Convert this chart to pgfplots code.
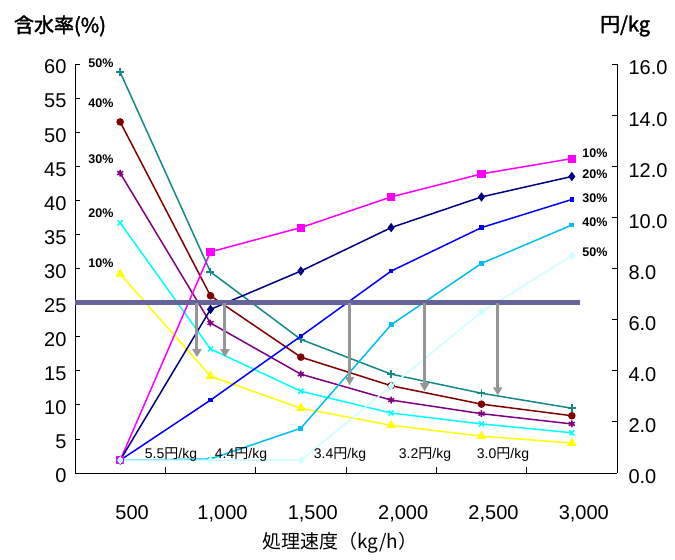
\documentclass[border=0pt]{standalone}
\usepackage{fontspec}
\setmainfont{Liberation Sans}
\newfontfamily\cjk[AutoFakeBold=2]{Noto Sans CJK JP}
\usepackage{pgfplots}
\pgfplotsset{compat=1.18}
\usetikzlibrary{arrows.meta}
\definecolor{cteal}{RGB}{20,135,135}
\definecolor{cdred}{RGB}{128,0,0}
\definecolor{cpurp}{RGB}{128,0,128}
\definecolor{ccyan}{RGB}{0,255,255}
\definecolor{cyell}{RGB}{255,255,0}
\definecolor{cmag}{RGB}{255,0,255}
\definecolor{cnavy}{RGB}{0,0,128}
\definecolor{cblue}{RGB}{0,0,255}
\definecolor{csky}{RGB}{0,190,245}
\definecolor{cpale}{RGB}{204,255,255}
\definecolor{chl}{RGB}{100,100,155}
\definecolor{carr}{RGB}{150,150,150}
\pgfplotsset{
  base/.style={at={(0bp,0bp)}, anchor=south west, scale only axis,
    width=542bp, height=409bp, xmin=-0.5, xmax=5.5,
    tick align=inside, major tick length=5bp, minor tick length=6bp,
    tick style={black, line width=0.8bp},
    axis line style={black, line width=0.9bp},
    /pgf/number format/assume math mode=true,
    ticklabel style={font=\fontsize{20bp}{23bp}\selectfont},
  },
  mline/.style={line width=1.5bp, mark options={solid}},
}
\begin{document}
\begin{tikzpicture}
\path[use as bounding box] (-75bp,-87bp) rectangle (600bp,473bp);
% primary axis: moisture content
\begin{axis}[base,
  ymin=0, ymax=60,
  axis x line*=bottom, axis y line*=left,
  xtick={0,1,2,3,4,5},
  xticklabels={500,{1,000},{1,500},{2,000},{2,500},{3,000}},
  every major x tick/.append style={draw=none},
  minor xtick={0.5,1.5,2.5,3.5,4.5},
  ytick={0,5,...,60},
  yticklabel style={xshift=-5bp, yshift=-3bp},
  xticklabel style={xshift=12bp, yshift=-29bp},
]
\addplot[mline, color=cyell, mark=triangle*, mark size=4bp] coordinates {(0,29.2)(1,14.2)(2,9.5)(3,7.0)(4,5.4)(5,4.4)};
\addplot[mline, color=ccyan, mark=x, mark size=3.5bp] coordinates {(0,36.7)(1,18.2)(2,12.0)(3,8.8)(4,7.2)(5,5.9)};
\addplot[mline, color=cpurp, mark=asterisk, mark size=3.5bp] coordinates {(0,44.0)(1,22.0)(2,14.5)(3,10.7)(4,8.7)(5,7.2)};
\addplot[mline, color=cdred, mark=*, mark size=3bp] coordinates {(0,51.5)(1,26.0)(2,17.0)(3,12.8)(4,10.1)(5,8.4)};
\addplot[mline, color=cteal, mark=+, mark size=4bp] coordinates {(0,58.8)(1,29.5)(2,19.6)(3,14.5)(4,11.7)(5,9.5)};
\end{axis}
% secondary axis: cost
\begin{axis}[base,
  ymin=0, ymax=16,
  axis x line=none, axis y line*=right,
  ytick={0,2,...,16},
  yticklabel style={/pgf/number format/.cd, fixed, fixed zerofill, precision=1, /tikz/.cd, xshift=8bp, yshift=-4bp},
]
\addplot[mline, color=cmag, mark=square*, mark size=3.3bp] coordinates {(0,0.5)(1,8.65)(2,9.6)(3,10.8)(4,11.7)(5,12.3)};
\addplot[mline, color=cnavy, mark=diamond*, mark size=3.5bp] coordinates {(0,0.5)(1,6.4)(2,7.9)(3,9.6)(4,10.8)(5,11.6)};
\addplot[mline, color=cblue, mark=square*, mark size=1.4bp] coordinates {(0,0.5)(1,2.85)(2,5.35)(3,7.9)(4,9.6)(5,10.7)};
\addplot[mline, color=csky, mark=square*, mark size=1.6bp] coordinates {(0,0.5)(1,0.55)(2,1.75)(3,5.8)(4,8.2)(5,9.7)};
\addplot[mline, color=cpale, mark=diamond*, mark size=3bp] coordinates {(0,0.5)(1,0.5)(2,0.5)(3,3.4)(4,6.3)(5,8.5)};
\end{axis}
% overlay: target line and arrows (moisture scale)
\begin{axis}[base, ymin=0, ymax=60, hide axis]
\addplot[color=chl, line width=4.5bp, no marks] coordinates {(-0.5,25)(5.09,25)};
\addplot[color=carr, line width=3bp, no marks, -{Triangle[width=9bp,length=8bp]}] coordinates {(0.85,25)(0.85,17.0)};
\addplot[color=carr, line width=3bp, no marks, -{Triangle[width=9bp,length=8bp]}] coordinates {(1.16,25)(1.16,17.0)};
\addplot[color=carr, line width=3bp, no marks, -{Triangle[width=9bp,length=8bp]}] coordinates {(2.54,25)(2.54,12.9)};
\addplot[color=carr, line width=3bp, no marks, -{Triangle[width=9bp,length=8bp]}] coordinates {(3.37,25)(3.37,12.0)};
\addplot[color=carr, line width=3bp, no marks, -{Triangle[width=9bp,length=8bp]}] coordinates {(4.18,25)(4.18,11.4)};
\end{axis}
% titles
\node[font=\fontsize{20bp}{24bp}\selectfont\cjk\bfseries] at (-15bp,447bp) {含水率(\%)};
\node[font=\fontsize{20bp}{24bp}\selectfont\cjk\bfseries] at (550bp,447bp) {円/kg};
\node[font=\fontsize{19bp}{23bp}\selectfont\cjk] at (265bp,-70bp) {処理速度（kg/h）};
% series labels
\begin{scope}[every node/.style={font=\fontsize{12.5bp}{14bp}\selectfont\bfseries}]
\node at (26bp,410bp) {50\%};
\node at (26bp,370bp) {40\%};
\node at (26bp,314bp) {30\%};
\node at (26bp,260bp) {20\%};
\node at (26bp,210bp) {10\%};
\node at (520bp,320bp) {10\%};
\node at (520bp,299bp) {20\%};
\node at (520bp,275bp) {30\%};
\node at (520bp,251bp) {40\%};
\node at (520bp,221bp) {50\%};
\end{scope}
\begin{scope}[every node/.style={font=\fontsize{14bp}{16bp}\selectfont}]
\node at (96bp,18bp) {5.5{\cjk 円}/kg};
\node at (166bp,18bp) {4.4{\cjk 円}/kg};
\node at (265bp,18bp) {3.4{\cjk 円}/kg};
\node at (350bp,18bp) {3.2{\cjk 円}/kg};
\node at (428bp,18bp) {3.0{\cjk 円}/kg};
\end{scope}
\end{tikzpicture}
\end{document}
